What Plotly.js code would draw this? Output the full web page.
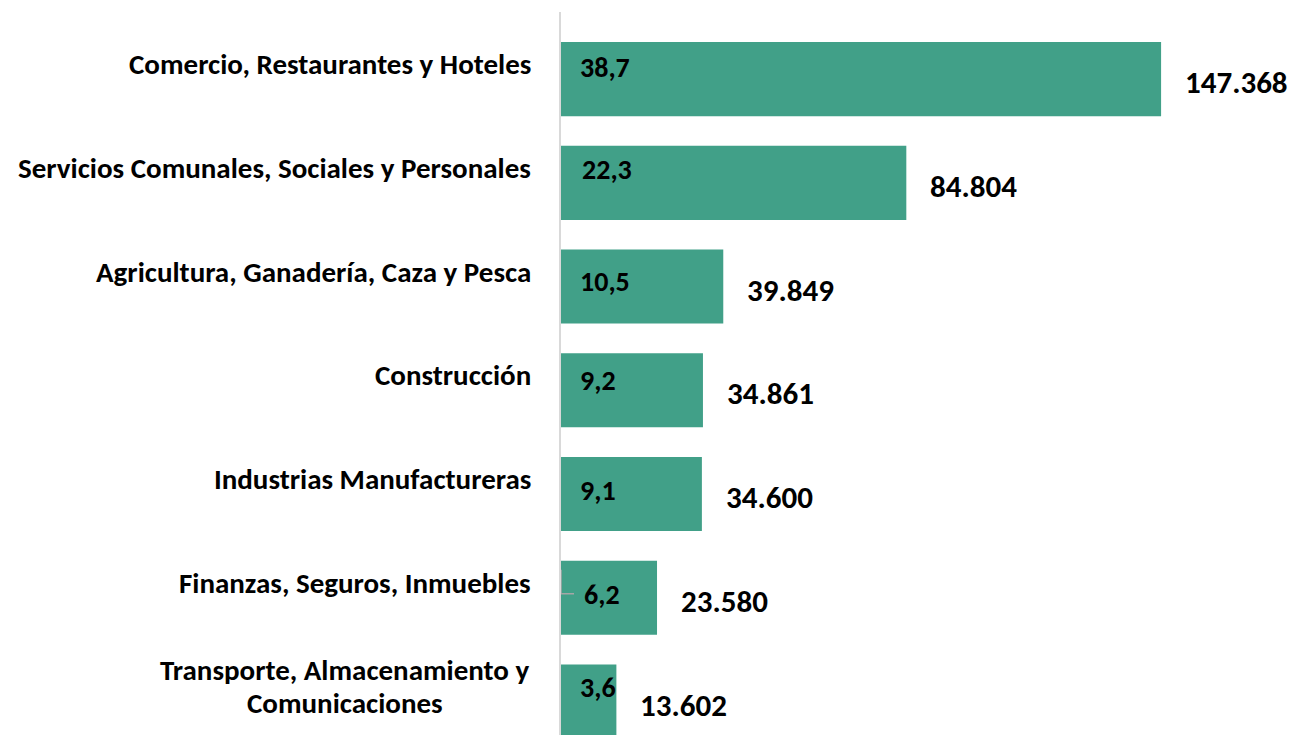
<!DOCTYPE html>
<html>
<head>
<meta charset="utf-8">
<script src="https://cdn.plot.ly/plotly-3.0.1.min.js"></script>
<style>html,body{margin:0;padding:0;background:#fff;}#chart{width:1296px;height:735px;}</style>
</head>
<body>
<div id="chart"></div>
<script>
// ---- data ----
const categories = [
  "Comercio, Restaurantes y Hoteles",
  "Servicios Comunales, Sociales y Personales",
  "Agricultura, Ganadería, Caza y Pesca",
  "Construcción",
  "Industrias Manufactureras",
  "Finanzas, Seguros, Inmuebles",
  "Transporte, Almacenamiento y<br>Comunicaciones"
];
const workers = [147368, 84804, 39849, 34861, 34600, 23580, 13602];
const valueLabels = ["147.368", "84.804", "39.849", "34.861", "34.600", "23.580", "13.602"];
const sharePct = ["38,7", "22,3", "10,5", "9,2", "9,1", "6,2", "3,6"];

// ---- style ----
const FONT = "Carlito, Lato, 'Open Sans', sans-serif";
const barColor = "#41A088";
const pctYShift = [12, 13, 5, 10, 4, 3, 14];
const pctXShift = [17, 19, 17, 17, 17, 21, 17];
const LINE_H = 33;

const trace = {
  type: "bar",
  orientation: "h",
  y: categories,
  x: workers,
  width: 0.714,
  marker: {color: barColor},
  hoverinfo: "none"
};

const annotations = [];
categories.forEach((c, i) => {
  // category label (one annotation per line, centred)
  const lines = c.split("<br>");
  const n = lines.length;
  lines.forEach((ln, k) => {
    annotations.push({
      xref: "paper", yref: "y", x: 0, y: c,
      xanchor: n > 1 ? "center" : "right", yanchor: "middle",
      xshift: n > 1 ? -216 : -28,
      yshift: 15 + (n - 1) / 2 * LINE_H - k * LINE_H,
      text: "<b>" + ln + "</b>", showarrow: false,
      font: {family: FONT, size: 29, color: "#000"}
    });
  });
  // share label inside bar
  annotations.push({
    xref: "x", yref: "y", x: 0, y: c,
    xanchor: "left", yanchor: "middle", xshift: pctXShift[i], yshift: pctYShift[i],
    text: "<b>" + sharePct[i] + "</b>", showarrow: false,
    font: {family: FONT, size: 28, color: "#000"}
  });
  // value label outside bar
  annotations.push({
    xref: "x", yref: "y", x: workers[i], y: c,
    xanchor: "left", yanchor: "middle", xshift: 22, yshift: -3,
    text: "<b>" + valueLabels[i] + "</b>", showarrow: false,
    font: {family: FONT, size: 31, color: "#000"}
  });
});

const layout = {
  width: 1296, height: 735,
  margin: {l: 561, r: 0, t: 12, b: 0, pad: 0},
  paper_bgcolor: "#fff", plot_bgcolor: "#fff",
  showlegend: false,
  xaxis: {range: [0, 180500], showgrid: false, zeroline: false, showticklabels: false, showline: false, fixedrange: true},
  yaxis: {
    type: "category", categoryorder: "array", categoryarray: categories,
    range: [6.323, -0.647], showgrid: false, zeroline: false, showticklabels: false,
    showline: true, linecolor: "#d9d9d9", linewidth: 2, ticks: "", fixedrange: true
  },
  annotations: annotations,
  shapes: [{
    type: "path", xref: "x", yref: "y",
    xsizemode: "pixel", ysizemode: "pixel", xanchor: 0, yanchor: categories[5],
    path: "M0,28 L0,4 L13,4",
    line: {color: "#a6a6a6", width: 1.5}
  }]
};

Plotly.newPlot("chart", [trace], layout, {displayModeBar: false, staticPlot: true});
</script>
</body>
</html>
